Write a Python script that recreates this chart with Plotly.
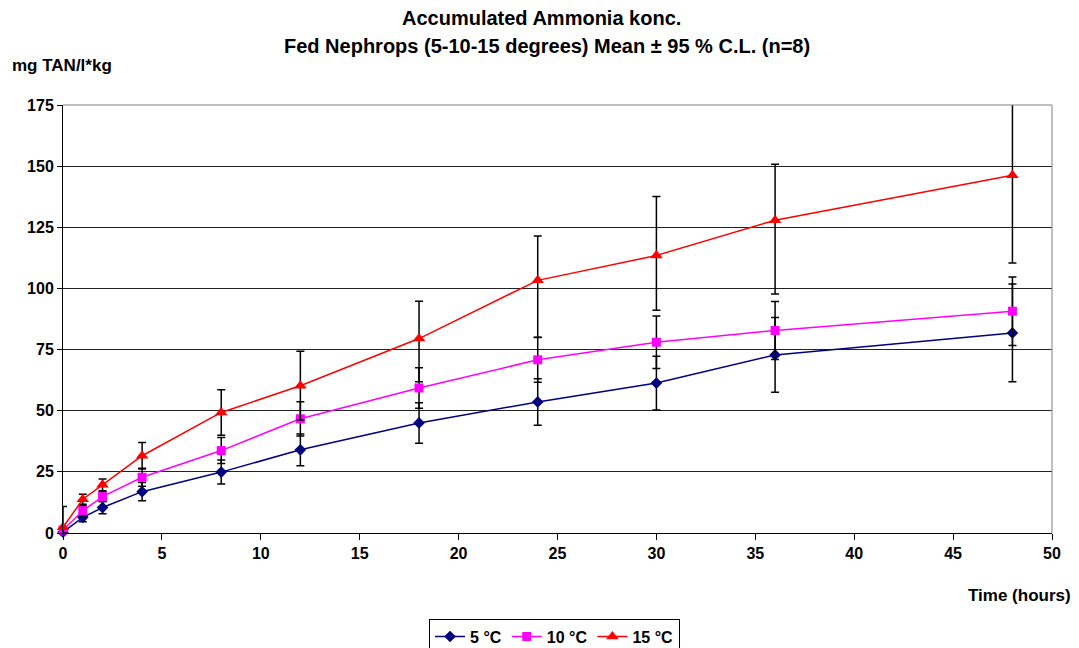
import plotly.graph_objects as go

time_h = [0, 1, 2, 4, 8, 12, 18, 24, 30, 36, 48]

t5_mean = [0.3, 6.4, 10.4, 16.9, 24.9, 34.0, 45.0, 53.6, 61.3, 72.8, 81.8]
t5_err = [0.5, 1.8, 2.5, 3.7, 4.9, 6.5, 8.3, 9.5, 11.0, 15.3, 20.0]

t10_mean = [1.2, 9.1, 14.9, 22.8, 33.7, 46.7, 59.3, 70.8, 78.0, 82.8, 90.7]
t10_err = [0.8, 2.0, 2.0, 3.7, 5.3, 7.0, 8.3, 9.2, 10.7, 11.9, 14.0]

t15_mean = [2.3, 13.8, 19.7, 31.6, 49.3, 60.2, 79.5, 103.3, 113.5, 127.9, 146.3]
t15_err_plus = [8.5, 2.0, 2.4, 5.4, 9.3, 14.1, 15.3, 18.1, 24.1, 22.9, 30.5]
t15_err_minus = [2.3, 2.0, 2.4, 5.4, 9.3, 14.0, 17.7, 23.4, 22.4, 30.2, 35.9]

series_names = ["5 °C", "10 °C", "15 °C"]
y_ticks = [0, 25, 50, 75, 100, 125, 150, 175]
x_ticks = [0, 5, 10, 15, 20, 25, 30, 35, 40, 45, 50]

FONT = "Liberation Sans, Arial, sans-serif"
err_style = dict(type="data", visible=True, color="black", thickness=1.5, width=4)

fig = go.Figure()
fig.add_trace(go.Scatter(
    x=time_h, y=t5_mean, name=f"<b>{series_names[0]}</b>", mode="lines+markers",
    line=dict(color="#000080", width=1.5),
    marker=dict(symbol="diamond", size=9, color="#000080"),
    error_y=dict(array=t5_err, **err_style), cliponaxis=False))
fig.add_trace(go.Scatter(
    x=time_h, y=t10_mean, name=f"<b>{series_names[1]}</b>", mode="lines+markers",
    line=dict(color="#FF00FF", width=1.5),
    marker=dict(symbol="square", size=9, color="#FF00FF"),
    error_y=dict(array=t10_err, **err_style), cliponaxis=False))
fig.add_trace(go.Scatter(
    x=time_h, y=t15_mean, name=f"<b>{series_names[2]}</b>", mode="lines+markers",
    line=dict(color="#FF0000", width=1.5),
    marker=dict(symbol="triangle-up", size=11, color="#FF0000"),
    error_y=dict(array=t15_err_plus, arrayminus=t15_err_minus, symmetric=False, **err_style),
    cliponaxis=False))

fig.update_layout(
    width=1079, height=648,
    margin=dict(l=63, r=27, t=105, b=115, autoexpand=False),
    paper_bgcolor="white", plot_bgcolor="white",
    font=dict(family=FONT, size=16, color="black"),
    xaxis=dict(
        range=[0, 50], tickvals=x_ticks, ticktext=[f"<b>{v}</b>" for v in x_ticks],
        showgrid=False, zeroline=False, automargin=False,
        showline=True, linecolor="black", linewidth=1, mirror=False,
        ticks="outside", ticklen=6, tickcolor="black", tickfont=dict(size=16)),
    yaxis=dict(
        range=[0, 175], tickvals=y_ticks, ticktext=[f"<b>{v}</b>" for v in y_ticks],
        showgrid=True, gridcolor="#222222", gridwidth=1, zeroline=False, automargin=False,
        showline=True, linecolor="black", linewidth=1,
        ticks="outside", ticklen=5, tickcolor="black", tickfont=dict(size=16)),
    legend=dict(
        orientation="h", x=0.497, xanchor="center", y=-0.20, yanchor="top",
        bordercolor="black", borderwidth=1, bgcolor="white",
        font=dict(family=FONT, size=16, color="black"),
        tracegroupgap=0),
    showlegend=True,
    shapes=[
        dict(type="line", xref="paper", yref="paper", x0=0, x1=1, y0=1, y1=1,
             line=dict(color="#808080", width=1)),
        dict(type="line", xref="paper", yref="paper", x0=1, x1=1, y0=0, y1=1,
             line=dict(color="#808080", width=1)),
    ],
    annotations=[
        dict(text="<b>Accumulated Ammonia konc.</b>", xref="paper", yref="paper",
             x=(541-63)/989, y=(533-18)/428, xanchor="center", yanchor="middle",
             showarrow=False, font=dict(family=FONT, size=20, color="black")),
        dict(text="<b>Fed Nephrops (5-10-15 degrees) Mean ± 95 % C.L. (n=8)</b>",
             xref="paper", yref="paper",
             x=(547-63)/989, y=(533-46)/428, xanchor="center", yanchor="middle",
             showarrow=False, font=dict(family=FONT, size=20, color="black")),
        dict(text="<b>mg TAN/l*kg</b>", xref="paper", yref="paper",
             x=-53/989, y=(533-65)/428, xanchor="left", yanchor="middle",
             showarrow=False, font=dict(family=FONT, size=17, color="black")),
        dict(text="<b>Time (hours)</b>", xref="paper", yref="paper",
             x=(1073-63)/989, y=(533-595)/428, xanchor="right", yanchor="middle",
             showarrow=False, font=dict(family=FONT, size=17, color="black")),
    ],
)

fig.write_html("out.html", config={"displayModeBar": False},
               post_script="document.body.style.margin='0';document.body.style.overflow='hidden';")
